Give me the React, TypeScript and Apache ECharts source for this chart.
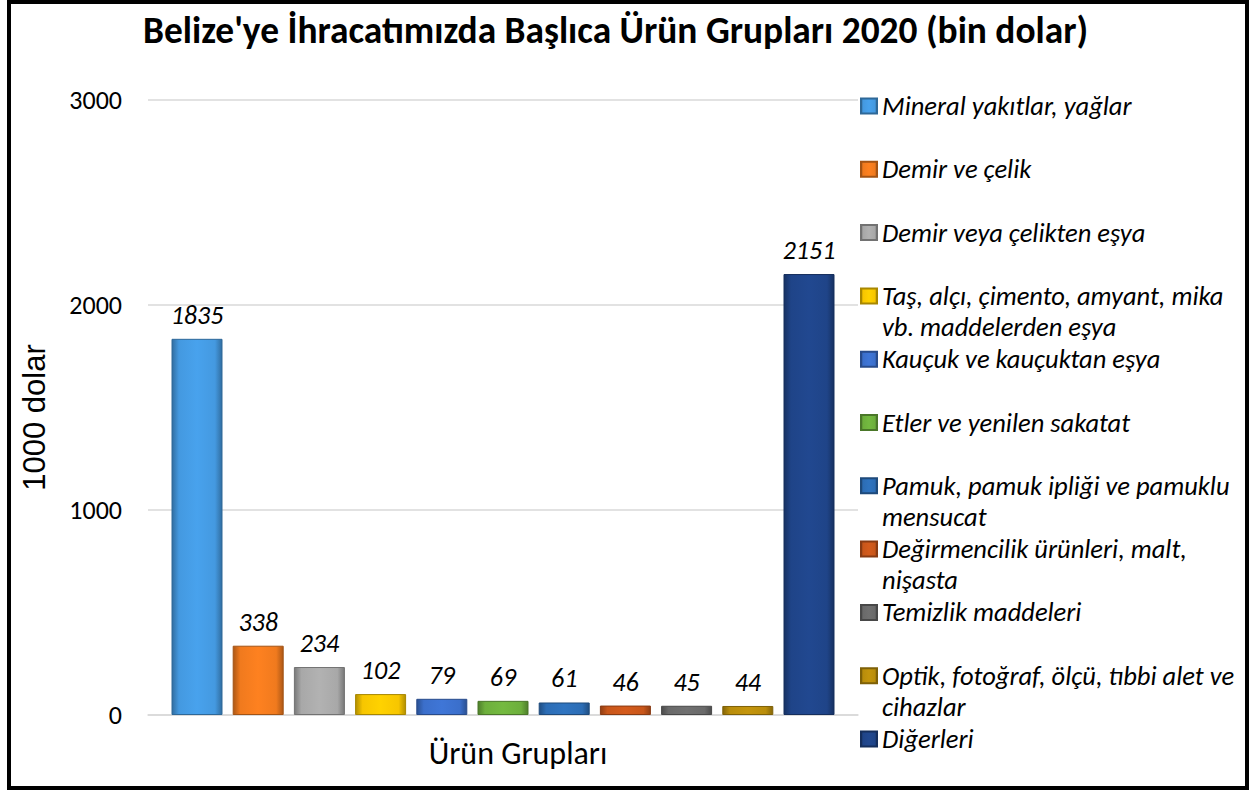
import React, { useEffect, useRef } from "react";
import * as echarts from "echarts";

const titleText = "Belize'ye İhracatımızda Başlıca Ürün Grupları 2020 (bin dolar)";
const xAxisTitle = "Ürün Grupları";
const yAxisTitle = "1000 dolar";
const categories = [
  "Mineral yakıtlar, yağlar",
  "Demir ve çelik",
  "Demir veya çelikten eşya",
  "Taş, alçı, çimento, amyant, mika vb. maddelerden eşya",
  "Kauçuk ve kauçuktan eşya",
  "Etler ve yenilen sakatat",
  "Pamuk, pamuk ipliği ve pamuklu mensucat",
  "Değirmencilik ürünleri, malt, nişasta",
  "Temizlik maddeleri",
  "Optik, fotoğraf, ölçü, tıbbi alet ve cihazlar",
  "Diğerleri",
];
const legendLines = [
  ["Mineral yakıtlar, yağlar"],
  ["Demir ve çelik"],
  ["Demir veya çelikten eşya"],
  ["Taş, alçı, çimento, amyant, mika", "vb. maddelerden eşya"],
  ["Kauçuk ve kauçuktan eşya"],
  ["Etler ve yenilen sakatat"],
  ["Pamuk, pamuk ipliği ve pamuklu", "mensucat"],
  ["Değirmencilik ürünleri, malt,", "nişasta"],
  ["Temizlik maddeleri"],
  ["Optik, fotoğraf, ölçü, tıbbi alet ve", "cihazlar"],
  ["Diğerleri"],
];
const values = [1835, 338, 234, 102, 79, 69, 61, 46, 45, 44, 2151];
const colors = [
  "#4499E0",
  "#F07A1E",
  "#A8A8A8",
  "#F7C600",
  "#3B6FCB",
  "#6DAF3C",
  "#2C6DB5",
  "#C8561A",
  "#6A6A6A",
  "#B98D0B",
  "#1F4488",
];
const yMin = 0;
const yMax = 3000;
const yInterval = 1000;

const FONT = "Carlito, Calibri, Lato, sans-serif";
const LEGEND_LH = 31;

function shade(hex: string, f: number): string {
  const n = parseInt(hex.slice(1), 16);
  const r = Math.round(((n >> 16) & 255) * f);
  const g = Math.round(((n >> 8) & 255) * f);
  const b = Math.round((n & 255) * f);
  return `rgb(${Math.min(255, r)},${Math.min(255, g)},${Math.min(255, b)})`;
}

export default function App() {
  const ref = useRef<HTMLDivElement>(null);
  useEffect(() => {
    document.body.style.margin = "0";
    if (!ref.current) return;
    const chart = echarts.init(ref.current, undefined, { renderer: "svg" });

    const series = categories.map((name, i) => ({
      name,
      type: "bar",
      data: [values[i]],
      barWidth: 51,
      barGap: "20%",
      itemStyle: {
        color: {
          type: "linear",
          x: 0,
          y: 0,
          x2: 1,
          y2: 0,
          colorStops: [
            { offset: 0, color: shade(colors[i], 0.72) },
            { offset: 0.14, color: colors[i] },
            { offset: 0.5, color: shade(colors[i], 1.06) },
            { offset: 0.86, color: colors[i] },
            { offset: 1, color: shade(colors[i], 0.72) },
          ],
        },
        borderColor: shade(colors[i], 0.68),
        borderWidth: 1,
      },
      label: {
        show: true,
        position: "top",
        distance: 11,
        fontFamily: FONT,
        fontStyle: "italic",
        fontSize: 26,
        color: "#000",
      },
    }));

    const legends = categories.map((name, i) => {
      const lines = legendLines[i];
      const two = lines.length > 1;
      const y = 106 + i * 63.3;
      return {
        orient: "vertical",
        left: 860,
        top: two ? y - 1.5 * LEGEND_LH : y - 0.5 * LEGEND_LH,
        padding: 0,
        itemWidth: 16,
        itemHeight: 15,
        itemGap: 0,
        icon: "rect",
        selectedMode: false,
        data: [name],
        formatter: () => (two ? "\n" + lines.join("\n") : lines[0]),
        textStyle: {
          fontFamily: FONT,
          fontStyle: "italic",
          fontSize: 26.5,
          lineHeight: LEGEND_LH,
          color: "#000",
        },
      };
    });

    chart.setOption({
      animation: false,
      backgroundColor: "#fff",
      title: {
        text: titleText,
        left: 143,
        top: 11,
        padding: 0,
        textStyle: {
          fontFamily: FONT,
          fontWeight: "bold",
          fontSize: 37.4,
          color: "#000",
        },
      },
      grid: { left: 148, top: 100, width: 710, height: 615 },
      legend: legends,
      xAxis: {
        type: "category",
        data: [""],
        name: xAxisTitle,
        nameLocation: "middle",
        nameGap: 22,
        nameTextStyle: {
          fontFamily: FONT,
          fontSize: 32,
          color: "#000",
          padding: [0, 0, 0, 30],
        },
        axisLine: { lineStyle: { color: "#D9D9D9", width: 1.5 } },
        axisTick: { show: false },
        axisLabel: { show: false },
      },
      yAxis: {
        type: "value",
        min: yMin,
        max: yMax,
        interval: yInterval,
        name: yAxisTitle,
        nameLocation: "middle",
        nameGap: 98,
        nameRotate: 90,
        nameTextStyle: {
          fontFamily: "Liberation Sans, Arial, sans-serif",
          fontSize: 31,
          color: "#000",
          padding: [0, 20, 0, 0],
        },
        axisLine: { show: false },
        axisTick: { show: false },
        axisLabel: {
          margin: 26,
          fontFamily: FONT,
          fontSize: 26,
          color: "#000",
          formatter: (v: number) => String(v),
        },
        splitLine: { lineStyle: { color: "#D9D9D9", width: 1.5 } },
      },
      graphic: [
        {
          type: "rect",
          shape: { x: 9, y: 2, width: 1238, height: 786 },
          style: { fill: "none", stroke: "#000", lineWidth: 4 },
          silent: true,
        },
      ],
      series,
    });
    return () => chart.dispose();
  }, []);
  return <div ref={ref} style={{ width: 1252, height: 790 }} />;
}
